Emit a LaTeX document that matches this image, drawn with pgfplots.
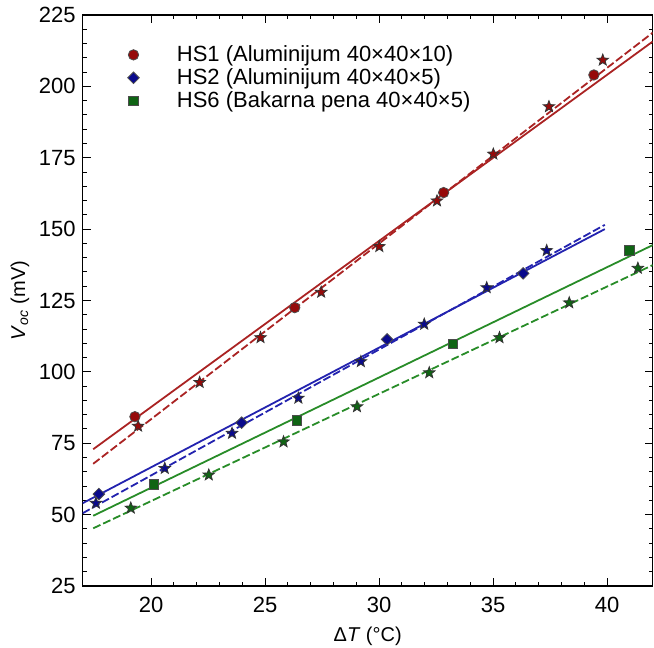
\documentclass[border=0pt]{standalone}
\usepackage{fontspec}
\setmainfont{Liberation Sans}
\usepackage{pgfplots}
\pgfplotsset{compat=1.18}

\definecolor{hsred}{RGB}{150,10,10}
\definecolor{hsredl}{RGB}{170,35,35}
\definecolor{hsblue}{RGB}{10,10,140}
\definecolor{hsbluel}{RGB}{35,35,175}
\definecolor{hsgreen}{RGB}{15,100,20}
\definecolor{hsgreenl}{RGB}{40,140,40}

% filled five-pointed star
\pgfdeclareplotmark{fstar}{%
  \pgfpathmoveto{\pgfpointpolar{90}{\pgfplotmarksize}}%
  \pgfpathlineto{\pgfpointpolar{126}{0.42\pgfplotmarksize}}%
  \pgfpathlineto{\pgfpointpolar{162}{\pgfplotmarksize}}%
  \pgfpathlineto{\pgfpointpolar{198}{0.42\pgfplotmarksize}}%
  \pgfpathlineto{\pgfpointpolar{234}{\pgfplotmarksize}}%
  \pgfpathlineto{\pgfpointpolar{270}{0.42\pgfplotmarksize}}%
  \pgfpathlineto{\pgfpointpolar{306}{\pgfplotmarksize}}%
  \pgfpathlineto{\pgfpointpolar{342}{0.42\pgfplotmarksize}}%
  \pgfpathlineto{\pgfpointpolar{18}{\pgfplotmarksize}}%
  \pgfpathlineto{\pgfpointpolar{54}{0.42\pgfplotmarksize}}%
  \pgfpathclose
  \pgfusepathqfillstroke}

\begin{document}
\begin{tikzpicture}
\begin{axis}[
  scale only axis, width=285pt, height=285.5pt,
  xmin=17, xmax=42, ymin=25, ymax=225,
  xtick={20,25,...,40}, ytick={25,50,...,225},
  minor x tick num=4, minor y tick num=4,
  tick align=inside, major tick length=4pt, minor tick length=2pt,
  axis line style={line width=0.6pt},
  every tick/.style={black, line width=0.5pt},
  /pgf/number format/assume math mode=true,
  tick label style={font=\fontsize{11}{13}\selectfont},
  xticklabel shift=2pt,
  label style={font=\fontsize{11}{13}\selectfont},
  xlabel={Δ\textit{T} (°C)},
  ylabel={\textit{V}\textsubscript{\textit{oc}} (mV)},
  every axis x label/.style={at={(axis description cs:0.5,-0.0876)}, anchor=center},
  every axis y label/.style={at={(axis description cs:-0.11,0.5)}, rotate=90, anchor=center},
  legend image code/.code={\path (-3pt,0pt) (19.5pt,0pt); \draw[#1] plot coordinates {(0pt,0pt)};},
  legend style={draw=none, fill=none, at={(axis description cs:0,1)}, anchor=north west,
    xshift=19pt, yshift=-12pt, font=\fontsize{11}{13}\selectfont,
    nodes={inner ysep=1pt, inner xsep=2pt}, row sep=0pt},
  legend cell align=left,
]
\coordinate (sw) at (rel axis cs:0,0);
\coordinate (ne) at (rel axis cs:1,1);

% fitted lines
\addplot[forget plot, hsredl, line width=0.9pt] coordinates {(17.46,72.9) (42,215.7)};
\addplot[forget plot, hsredl, line width=0.9pt, dash pattern=on 4pt off 1.5pt] coordinates {(17.46,67.8) (42,218.8)};
\addplot[forget plot, hsbluel, line width=0.9pt] coordinates {(17,54.0) (39.9,150.0)};
\addplot[forget plot, hsbluel, line width=0.9pt, dash pattern=on 4pt off 1.5pt] coordinates {(17,50.5) (39.9,151.5)};
\addplot[forget plot, hsgreenl, line width=0.9pt] coordinates {(17.46,49.6) (42,144.4)};
\addplot[forget plot, hsgreenl, line width=0.9pt, dash pattern=on 4pt off 1.5pt] coordinates {(17.46,45.2) (42,137.4)};

% stars
\addplot[forget plot, only marks, mark=fstar, mark size=3pt,
  mark options={fill=hsred, draw=black!80, line width=0.4pt}] coordinates {
  (19.43,81.0) (22.13,96.3) (24.8,112.0) (27.46,127.9) (30.01,143.9)
  (32.54,159.9) (35.01,176.3) (37.45,192.9) (39.81,209.2)};
\addplot[forget plot, only marks, mark=fstar, mark size=3pt,
  mark options={fill=hsblue, draw=black!80, line width=0.4pt}] coordinates {
  (17.58,54.0) (20.6,66.2) (23.55,78.5) (26.46,90.8) (29.2,103.6)
  (31.98,116.7) (34.72,129.5) (37.35,142.5)};
\addplot[forget plot, only marks, mark=fstar, mark size=3pt,
  mark options={fill=hsgreen, draw=black!80, line width=0.4pt}] coordinates {
  (19.11,52.3) (22.53,63.9) (25.81,75.5) (29.03,87.8) (32.2,99.7)
  (35.28,112.0) (38.34,124.2) (41.35,136.3)};

% measured series
\addplot[only marks, mark=*, mark size=2.6pt,
  mark options={fill=hsred, draw=black!70, line width=0.4pt}] coordinates {
  (19.29,84.3) (26.3,122.5) (32.83,162.8) (39.42,204.0)};
\addlegendentry{HS1 (Aluminijum 40×40×10)}
\addplot[only marks, mark=square*, mark size=2.05pt,
  mark options={rotate=45, fill=hsblue, draw=black!70, line width=0.4pt}] coordinates {
  (17.71,57.2) (23.97,82.2) (30.35,111.4) (36.32,134.5)};
\addlegendentry{HS2 (Aluminijum 40×40×5)}
\addplot[only marks, mark=square*, mark size=2.4pt,
  mark options={fill=hsgreen, draw=black!70, line width=0.4pt}] coordinates {
  (20.13,60.5) (26.4,82.9) (33.24,109.8) (40.99,142.5)};
\addlegendentry{HS6 (Bakarna pena 40×40×5)}
\end{axis}
\pgfresetboundingbox
\path[use as bounding box] ([shift={(-41.35pt,-31pt)}]sw) rectangle ([shift={(0.65pt,7.5pt)}]ne);
\end{tikzpicture}
\end{document}
